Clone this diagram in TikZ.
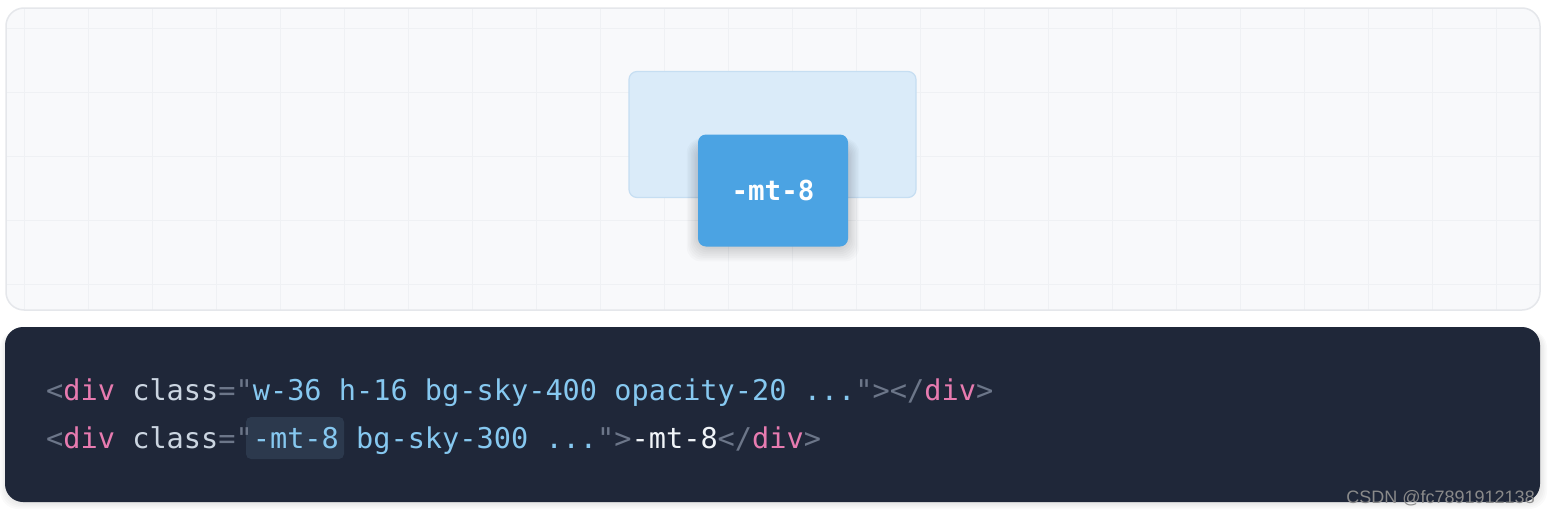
\documentclass[tikz,border=0pt]{standalone}
\usepackage{fontspec}
\newfontfamily\codefont{DejaVu Sans Mono}
\newfontfamily\wmfont{Liberation Sans}
\definecolor{panelbg}{HTML}{F8F9FB}
\definecolor{panelborder}{HTML}{E5E7EB}
\definecolor{gridc}{HTML}{EFF1F4}
\definecolor{lightfill}{HTML}{DAEBF9}
\definecolor{lightborder}{HTML}{C6DEF2}
\definecolor{bluebox}{HTML}{4BA3E3}
\definecolor{darkbg}{HTML}{1F2739}
\definecolor{hlbg}{HTML}{2C394D}
\definecolor{punct}{HTML}{6C7689}
\definecolor{tagc}{HTML}{E77BB0}
\definecolor{attrc}{HTML}{CBD5E1}
\definecolor{valc}{HTML}{86C8F0}
\definecolor{txtc}{HTML}{F1F5F9}
\definecolor{wmc}{HTML}{8A8A8A}
\newcommand{\Pu}[1]{\textcolor{punct}{#1}}
\newcommand{\Tg}[1]{\textcolor{tagc}{#1}}
\newcommand{\At}[1]{\textcolor{attrc}{#1}}
\newcommand{\Va}[1]{\textcolor{valc}{#1}}
\newcommand{\Tx}[1]{\textcolor{txtc}{#1}}
\begin{document}
\begin{tikzpicture}[x=1pt,y=-1pt,
  codeline/.style={anchor=base west,inner sep=0pt,font=\codefont\fontsize{28.6}{30}\selectfont},
  lightbox/.style={draw=lightborder,line width=1.2pt,fill=lightfill,rounded corners=8pt,minimum width=287pt,minimum height=126pt,inner sep=0pt},
  bluebox/.style={fill=bluebox,rounded corners=8pt,minimum width=150pt,minimum height=112pt,inner sep=0pt,text=white,font=\codefont\bfseries\fontsize{27.5}{30}\selectfont},
  shadowlayer/.style={fill=black,opacity=0.018,rounded corners=14pt},
  hlbox/.style={fill=hlbg,rounded corners=5pt,inner sep=0pt},
  gridline/.style={draw=gridc,line width=1pt}
]
\useasboundingbox (0,0) rectangle (1550,514);
\fill[white] (0,0) rectangle (1550,514);
% top panel
\fill[panelbg,rounded corners=18pt] (6,8) rectangle (1540,310);
\begin{scope}
  \clip[rounded corners=18pt] (6,8) rectangle (1540,310);
  \foreach \gx in {24,88,...,1540} \draw[gridline] (\gx,8) -- (\gx,310);
  \foreach \gy in {28,92,...,310} \draw[gridline] (6,\gy) -- (1540,\gy);
\end{scope}
\draw[panelborder,line width=1.5pt,rounded corners=18pt] (6,8) rectangle (1540,310);
% boxes
\node[lightbox] (back) at (772.5,134.5) {};
% soft shadow of the front box
\foreach \s in {0,2,...,16}
  \fill[shadowlayer] (698-\s*0.7,145-\s*0.4) rectangle (848+\s*0.7,247+\s*0.9);
\node[bluebox] (front) at (773,190.5) {-mt-8};
% code panel
\foreach \s in {0,1.5,...,6}
  \fill[black,opacity=0.02,rounded corners=18pt] (6-\s,330) rectangle (1541+\s,503+\s);
\fill[darkbg,rounded corners=18pt] (5,327) rectangle (1540,502);
\node[hlbox,minimum width=98pt,minimum height=42pt] (hl) at (295,438) {};
\node[codeline] (l1) at (46,400) {\Pu{<}\Tg{div} \At{class}\Pu{="}\Va{w-36 h-16 bg-sky-400 opacity-20 ...}\Pu{"></}\Tg{div}\Pu{>}};
\node[codeline] (l2) at (46,448) {\Pu{<}\Tg{div} \At{class}\Pu{="}\Va{-mt-8 bg-sky-300 ...}\Pu{">}\Tx{-mt-8}\Pu{</}\Tg{div}\Pu{>}};
% watermark
\node[anchor=base east,inner sep=0pt,text=wmc,font=\wmfont\fontsize{18}{20}\selectfont] (wm) at (1535,503) {CSDN @fc7891912138};
\end{tikzpicture}
\end{document}
